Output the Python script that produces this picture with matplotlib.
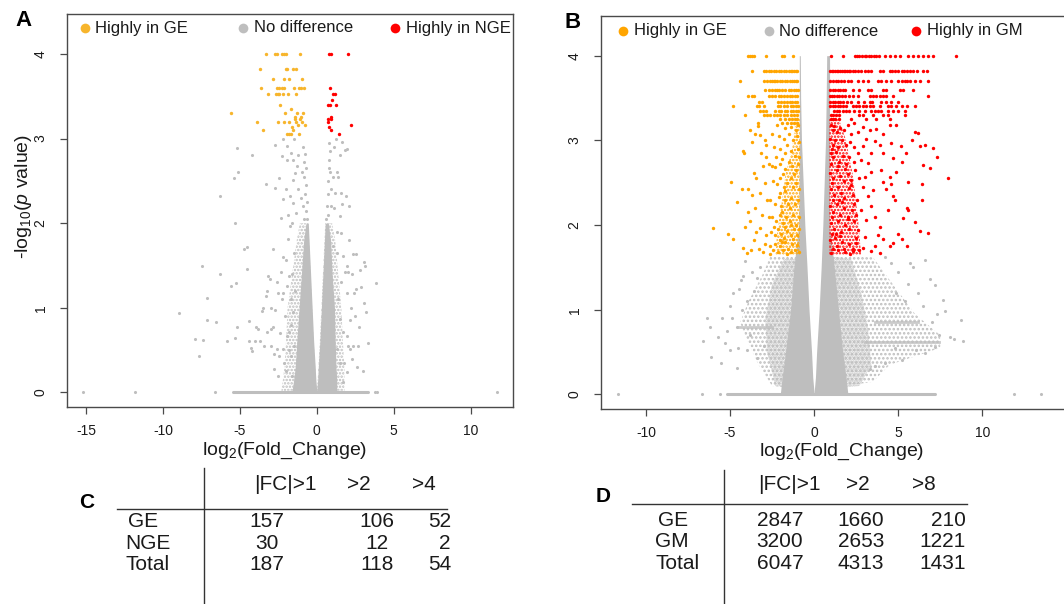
import matplotlib
matplotlib.use("Agg")
import matplotlib.pyplot as plt
from matplotlib.lines import Line2D

plt.rcParams['font.family'] = ['Liberation Sans', 'DejaVu Sans']
plt.rcParams['mathtext.fontset'] = 'custom'
plt.rcParams['mathtext.rm'] = 'Liberation Sans'
plt.rcParams['mathtext.it'] = 'Liberation Sans:italic'
plt.rcParams['axes.unicode_minus'] = False
plt.rcParams['hatch.linewidth'] = 1.2

# ---------------- DATA: panel A (GE vs NGE) ----------------
A_ge = [(-3.32, 4.0), (-2.69, 4.0), (-2.58, 4.0), (-2.28, 4.0), (-2.15, 4.0), (-2.02, 4.0), (-1.08, 4.0),
        (-3.68, 3.82), (-2.02, 3.82), (-1.91, 3.82), (-1.52, 3.82), (-1.34, 3.82),
        (-2.82, 3.70), (-2.12, 3.70), (-1.82, 3.70), (-0.98, 3.70),
        (-3.60, 3.60), (-2.56, 3.60), (-2.43, 3.60), (-2.28, 3.60), (-2.12, 3.60), (-1.50, 3.60),
        (-1.15, 3.60), (-1.02, 3.60), (-0.82, 3.60),
        (-3.16, 3.53), (-2.62, 3.53), (-2.51, 3.53), (-2.43, 3.53), (-2.17, 3.53), (-1.86, 3.53), (-1.34, 3.53),
        (-2.38, 3.40), (-1.69, 3.35), (-5.59, 3.30), (-2.08, 3.30), (-1.28, 3.30), (-0.87, 3.30),
        (-1.41, 3.26), (-1.02, 3.26), (-1.43, 3.23), (-1.08, 3.23),
        (-3.88, 3.19), (-2.54, 3.19), (-2.15, 3.19), (-1.80, 3.19), (-1.34, 3.19), (-0.95, 3.19),
        (-1.24, 3.16), (-0.78, 3.16), (-1.58, 3.14), (-3.51, 3.10), (-1.56, 3.10),
        (-1.95, 3.05), (-1.82, 3.05), (-1.65, 3.05), (-1.13, 3.05)]
A_nge = [(0.80, 4.0), (0.91, 4.0), (2.02, 4.0), (0.85, 3.60), (1.08, 3.53), (1.19, 3.53), (0.98, 3.46),
         (0.74, 3.40), (0.85, 3.40), (1.26, 3.40), (0.91, 3.26), (0.76, 3.23), (0.94, 3.23),
         (0.76, 3.19), (2.21, 3.16), (0.80, 3.14), (0.91, 3.10), (1.45, 3.05)]
A_grey = [(-15.17, 0), (-11.81, 0), (-6.61, 0), (3.79, 0), (3.94, 0), (11.75, 0),
          (-8.95, 0.94), (-7.91, 0.63), (-7.41, 0.62), (-7.63, 0.43), (-7.46, 1.50), (-7.15, 1.12),
          (-7.13, 0.86), (-6.57, 0.83), (-6.31, 2.32), (-6.29, 1.40), (-5.83, 0.61), (-5.55, 1.26),
          (-5.35, 2.53), (-5.29, 2.00), (-5.24, 1.29), (-5.29, 0.64), (-5.16, 0.77), (-5.14, 2.60),
          (-5.18, 2.89), (-4.70, 1.70), (-4.53, 1.72), (-4.51, 1.46), (-4.38, 0.85), (-4.42, 0.61),
          (-4.29, 0.53), (-4.23, 2.80), (-4.18, 0.49), (-3.99, 0.61), (-3.97, 0.77), (-3.84, 0.75),
          (-3.68, 0.61), (-3.55, 0.96), (-3.47, 1.00), (-3.32, 2.46), (-3.32, 1.14), (-3.25, 1.20),
          (-3.19, 1.38), (-3.03, 1.34), (-2.99, 0.55), (-2.86, 0.77), (-2.82, 1.70), (-2.75, 0.28),
          (-2.71, 2.42), (-2.69, 2.92), (-2.60, 0.51), (-2.47, 0.43), (-2.43, 2.53), (-2.34, 2.06),
          (-2.28, 2.79), (-2.21, 0.51), (-2.17, 2.28), (-2.10, 0.35), (-2.02, 2.40), (-1.95, 0.67),
          (-1.82, 0.71), (-1.78, 1.38), (-1.69, 0.43),
          (-2.69, 0.98), (-2.49, 1.18), (-2.28, 1.10), (-2.06, 0.90), (-1.91, 1.26), (-2.00, 1.57),
          (-1.86, 1.81), (-1.73, 1.97), (-2.34, 1.42), (-2.17, 1.18), (-2.99, 0.75), (-3.25, 0.71),
          (-2.17, 2.99), (-1.91, 2.91), (-1.67, 2.83), (-1.52, 2.75), (-1.41, 2.59), (-1.56, 2.51),
          (-1.73, 2.32), (-1.52, 2.24), (-1.34, 2.12), (-1.30, 2.67), (-1.95, 2.75), (-1.45, 1.65),
          (-1.60, 1.40), (-1.70, 1.10), (-1.55, 0.95), (-1.40, 1.20), (-1.65, 0.80), (-1.50, 0.55),
          (-1.80, 0.50), (-2.40, 0.70), (-2.60, 1.30), (-2.20, 1.60), (-1.90, 2.10), (-1.60, 2.00),
          (-1.25, 2.40), (-1.20, 2.80), (-1.45, 3.00), (-2.50, 0.20), (-2.00, 0.25), (-1.60, 0.20),
          (-1.30, 0.15), (-3.00, 1.00), (-2.80, 0.45), (-3.40, 0.55),
          (-0.62, 2.05), (-0.70, 2.15), (-0.66, 2.25), (-0.75, 2.35), (-0.68, 2.45), (-0.80, 2.55),
          (-0.72, 2.65), (-0.85, 2.72), (-0.78, 2.82), (-0.88, 2.90), (-0.95, 2.60), (-1.00, 2.30),
          (-0.90, 2.20), (-0.82, 2.05),
          (0.60, 2.05), (0.66, 2.20), (0.70, 2.35), (0.74, 2.50), (0.78, 2.65), (0.80, 2.75),
          (0.85, 2.85), (0.82, 2.95), (0.90, 2.40), (0.95, 2.20), (0.72, 2.10), (0.88, 2.60),
          (3.86, 1.29), (3.34, 0.59), (3.12, 1.49), (3.05, 1.54), (2.82, 1.45), (3.08, 1.06),
          (2.75, 0.77), (2.58, 1.64), (2.34, 1.64), (2.38, 0.55), (2.56, 1.22), (2.43, 1.18),
          (2.17, 0.51), (2.28, 0.40), (2.06, 0.55), (1.99, 1.49), (2.06, 1.42), (1.84, 1.42),
          (1.91, 2.32), (1.95, 2.88), (1.63, 2.96), (1.56, 2.36), (1.65, 2.23), (1.58, 1.89),
          (1.52, 2.08), (1.30, 2.60), (1.41, 2.55), (1.19, 2.36), (1.15, 2.18), (1.84, 2.87),
          (1.52, 2.80), (1.08, 2.55), (1.08, 1.73), (1.30, 1.65), (1.73, 1.61), (1.95, 1.18),
          (1.41, 1.10), (1.52, 0.87), (1.73, 0.71), (1.95, 0.67), (2.17, 0.86), (1.30, 0.51),
          (1.52, 0.35), (1.08, 0.31), (1.95, 0.24), (1.73, 0.12), (2.50, 0.90), (2.70, 0.55),
          (3.20, 0.95), (2.90, 1.25), (2.20, 1.00), (1.60, 1.30), (1.30, 1.90), (2.10, 1.80),
          (2.30, 1.40), (1.80, 0.35), (2.60, 0.30), (3.00, 0.25), (1.25, 3.00), (1.10, 2.90),
          (2.10, 2.20)]
# envelopes of the solid-looking V-shaped core of grey points
A_core_y = [0.02, 0.15, 0.3, 0.6, 1.0, 1.4, 1.8, 2.0]
A_core_left_in = [0.0, -0.06, -0.10, -0.20, -0.30, -0.40, -0.50, -0.55]
A_core_left_out = [-1.6, -1.5, -1.4, -1.3, -1.15, -1.0, -0.85, -0.70]
A_core_right_in = [0.0, 0.06, 0.10, 0.20, 0.30, 0.40, 0.50, 0.55]
A_core_right_out = [1.3, 1.3, 1.25, 1.2, 1.15, 1.0, 0.9, 0.75]
A_halo_left_out = [-2.3, -2.2, -2.1, -2.0, -1.9, -1.6, -1.3, -1.1]
A_halo_right_out = [1.8, 1.8, 1.8, 1.7, 1.6, 1.4, 1.2, 1.0]
A_zero_run = [-5.42, 3.36]

# ---------------- DATA: panel B (GE vs GM) ----------------
B_ge_row_levels = [4.00, 3.82, 3.70, 3.60, 3.52, 3.45, 3.40, 3.35, 3.30, 3.25, 3.21]
B_ge_row_x = [
    [-3.9, -3.8, -3.7, -3.55, -2.85, -1.9, -1.8, -1.25],
    [-3.72, -3.0, -2.85, -2.7, -2.55, -2.4, -2.25, -2.1, -1.95, -1.8, -1.65, -1.5, -1.4, -1.3, -1.2, -1.1, -1.0],
    [-4.4, -3.0, -2.8, -2.6, -2.5, -2.4, -2.3, -2.2, -2.05, -1.9, -1.75, -1.6, -1.45, -1.3, -1.2, -1.1, -1.0],
    [-2.9, -2.7, -2.5, -2.3, -2.2, -2.1, -1.9, -1.7, -1.5, -1.35, -1.2, -1.05, -0.95],
    [-3.9, -3.7, -3.55, -2.7, -2.5, -2.3, -2.1, -1.95, -1.8, -1.6, -1.45, -1.3, -1.15, -1.0],
    [-3.25, -3.1, -2.15, -1.95, -1.8, -1.6, -1.45, -1.3, -1.15, -1.0],
    [-4.8, -3.4, -3.25, -3.0, -2.15, -2.0, -1.8, -1.6, -1.4, -1.25, -1.1, -0.95],
    [-3.2, -3.05, -2.85, -2.3, -2.1, -1.95, -1.75, -1.6, -1.4, -1.25, -1.1, -0.95],
    [-4.1, -3.0, -2.8, -2.6, -2.4, -2.2, -2.0, -1.8, -1.6, -1.4, -1.2, -1.0],
    [-2.0, -1.7, -1.5, -1.3, -1.15, -1.0],
    [-3.35, -1.9, -1.6, -1.4, -1.2, -1.0]]
B_ge_pts = [(-3.34, 3.17), (-3.83, 3.12), (-3.53, 3.08), (-3.24, 3.06), (-2.94, 3.00), (-2.84, 2.95),
            (-3.70, 2.98), (-4.20, 2.87), (-4.15, 2.85), (-3.14, 2.85), (-2.84, 2.80), (-3.03, 2.70),
            (-2.70, 2.72), (-3.60, 2.62), (-3.45, 2.55), (-2.90, 2.50), (-4.95, 2.51), (-4.30, 2.43),
            (-3.95, 2.42), (-3.70, 2.35), (-3.20, 2.38), (-2.80, 2.30), (-4.60, 2.27), (-3.50, 2.20),
            (-3.90, 2.15), (-3.10, 2.12), (-2.70, 2.10), (-3.80, 2.05), (-4.10, 1.98), (-6.00, 1.97),
            (-3.20, 1.97), (-3.45, 1.92), (-5.10, 1.89), (-4.80, 1.84), (-2.85, 1.88), (-3.60, 1.82),
            (-2.90, 1.78), (-4.25, 1.73), (-3.75, 1.70), (-3.30, 1.72), (-3.05, 1.68), (-2.60, 1.66),
            (-4.00, 1.67),
            (-2.2, 3.18), (-1.7, 3.15), (-1.35, 3.16), (-1.1, 3.12), (-0.95, 3.18),
            (-2.5, 3.08), (-2.1, 3.05), (-1.8, 3.02), (-1.5, 3.07), (-1.25, 3.0), (-1.0, 3.05), (-0.9, 2.98),
            (-2.4, 2.92), (-2.0, 2.90), (-1.75, 2.85), (-1.6, 2.95), (-1.35, 2.88), (-1.15, 2.82),
            (-0.95, 2.9), (-0.9, 2.8), (-2.25, 2.8), (-1.9, 2.78),
            (-2.5, 2.7), (-2.3, 2.68), (-2.05, 2.72), (-1.7, 2.66), (-1.5, 2.74), (-1.3, 2.7),
            (-1.1, 2.65), (-0.95, 2.72), (-1.85, 2.6), (-1.2, 2.6),
            (-2.45, 2.52), (-2.2, 2.48), (-2.0, 2.55), (-1.8, 2.45), (-1.6, 2.5), (-1.4, 2.55),
            (-1.25, 2.45), (-1.05, 2.5), (-0.92, 2.42), (-1.7, 2.4),
            (-2.6, 2.3), (-2.35, 2.25), (-2.1, 2.33), (-1.95, 2.22), (-1.75, 2.3), (-1.55, 2.25),
            (-1.35, 2.32), (-1.15, 2.25), (-0.98, 2.3), (-1.45, 2.2), (-2.0, 2.38),
            (-2.5, 2.1), (-2.25, 2.05), (-2.05, 2.12), (-1.85, 2.02), (-1.65, 2.1), (-1.45, 2.05),
            (-1.25, 2.12), (-1.05, 2.0), (-0.92, 2.1), (-1.9, 2.15), (-1.35, 2.0),
            (-2.55, 1.92), (-2.3, 1.88), (-2.15, 1.95), (-1.95, 1.9), (-1.8, 1.85), (-1.6, 1.93),
            (-1.4, 1.88), (-1.2, 1.95), (-1.0, 1.88), (-0.9, 1.95), (-1.7, 1.98), (-2.4, 1.98),
            (-2.6, 1.75), (-2.45, 1.7), (-2.3, 1.78), (-2.15, 1.68), (-2.0, 1.75), (-1.85, 1.7),
            (-1.7, 1.8), (-1.55, 1.72), (-1.4, 1.68), (-1.3, 1.78), (-1.15, 1.7), (-1.0, 1.76),
            (-0.9, 1.68), (-2.05, 1.82), (-1.6, 1.66), (-1.9, 1.8), (-1.25, 1.83)]
B_ge_dense = [(-0.85, 1.65), (-2.3, 1.65), (-2.2, 1.9), (-1.9, 2.3), (-1.7, 2.6), (-1.3, 2.9),
              (-1.1, 3.25), (-0.85, 3.25)]

B_gm_row_levels = [4.00, 3.82, 3.70, 3.60, 3.52, 3.45, 3.40, 3.35, 3.30, 3.25]
B_gm_row_x = [
    [1.03, 1.72, 2.42, 2.55, 2.7, 2.85, 3.0, 3.1, 3.25, 3.4, 3.55, 3.7, 3.85, 4.2, 4.5, 4.8, 5.1, 5.6, 5.9,
     6.2, 6.5, 6.8, 7.07, 8.46],
    [0.95, 1.05, 1.15, 1.25, 1.35, 1.45, 1.55, 1.65, 1.75, 1.85, 1.95, 2.05, 2.15, 2.3, 2.45, 2.6, 2.8, 3.0,
     3.2, 3.4, 3.9, 4.1, 4.5, 4.65, 4.8, 5.0, 5.2, 5.35, 5.5, 5.7, 5.9, 6.1, 6.5, 6.7],
    [0.95, 1.1, 1.3, 1.45, 1.6, 1.8, 2.0, 2.2, 2.6, 2.9, 3.2, 3.8, 4.0, 4.3, 4.6, 5.0, 5.2, 5.4, 5.55, 5.7,
     6.0, 6.3, 6.8],
    [0.95, 1.1, 1.25, 1.4, 1.55, 1.7, 1.85, 2.3, 2.65, 3.2, 3.4, 4.1, 4.3, 5.1, 5.3, 5.9],
    [0.95, 1.05, 1.2, 1.35, 1.5, 1.65, 1.85, 2.1, 2.3, 2.6, 3.3, 3.5, 3.7, 3.9, 4.1, 4.3, 4.7, 6.75],
    [0.95, 1.1, 1.25, 1.4, 1.55, 1.7, 1.95, 2.2, 2.6, 2.95, 3.3, 3.45, 4.0, 4.3, 4.6, 5.0],
    [0.95, 1.1, 1.25, 1.4, 1.55, 1.7, 1.9, 2.3, 2.5, 2.7, 2.9, 3.1, 3.3, 3.5, 3.9, 4.4, 4.6, 4.9, 5.2, 5.5, 6.0],
    [1.2, 1.35, 1.5, 1.7, 1.9, 2.1, 2.4, 2.7, 3.0, 3.4, 3.6, 3.8, 4.0, 4.4, 4.7, 5.0, 5.4],
    [1.0, 1.15, 1.3, 1.5, 2.7, 2.9, 3.5, 4.1, 4.4, 5.4],
    [1.0, 1.1, 1.25, 1.5, 2.2, 3.1, 3.7, 4.5]]
B_gm_pts = [(7.94, 2.56), (7.29, 2.80), (7.10, 2.91), (6.89, 2.67), (6.50, 2.71), (6.40, 2.30), (6.30, 2.93),
            (6.60, 2.95), (6.00, 3.10), (6.20, 3.09), (5.80, 3.00), (6.40, 2.49), (6.30, 1.93), (6.80, 1.91),
            (5.50, 2.20), (5.60, 2.18), (5.30, 2.08), (6.00, 2.04), (5.15, 2.93), (5.45, 2.85), (5.20, 2.75),
            (4.70, 2.79), (4.85, 2.63), (5.60, 2.51), (4.60, 2.48), (4.70, 2.34), (4.40, 2.18), (4.80, 2.30),
            (4.30, 2.42), (4.50, 2.57), (4.10, 2.51), (4.00, 2.65), (4.10, 2.85), (3.90, 2.95), (3.60, 2.99),
            (4.10, 3.08), (4.60, 2.97), (4.50, 3.18), (4.90, 3.18), (5.00, 1.90), (5.20, 1.83), (4.70, 1.79),
            (4.50, 1.75), (5.50, 1.75), (3.60, 1.75), (4.10, 1.83), (3.80, 1.88), (3.90, 1.98), (3.60, 2.10),
            (3.40, 2.22), (3.20, 2.34), (3.50, 2.41), (2.90, 2.45), (3.00, 2.57), (3.40, 2.63), (3.20, 2.73),
            (2.80, 2.77), (3.40, 2.85), (2.90, 2.93), (3.10, 3.02), (2.60, 3.10), (3.30, 3.12), (2.40, 3.20),
            (2.90, 3.16), (3.70, 3.14), (2.80, 2.18), (3.10, 2.06), (2.60, 1.94), (3.00, 1.86), (2.50, 1.79),
            (2.90, 1.73), (2.30, 1.69), (3.40, 1.69), (3.90, 1.67),
            (1.0, 3.18), (1.1, 3.12), (1.2, 3.17), (1.35, 3.1), (1.55, 3.15), (1.8, 3.12), (2.0, 3.18), (2.2, 3.08),
            (0.97, 3.02), (1.1, 2.95), (1.25, 3.0), (1.45, 2.92), (1.65, 3.0), (1.9, 2.95), (2.15, 2.98),
            (2.4, 2.92), (1.05, 2.9),
            (0.98, 2.85), (1.15, 2.8), (1.3, 2.86), (1.5, 2.75), (1.7, 2.82), (1.9, 2.72), (2.1, 2.8),
            (2.35, 2.75), (2.6, 2.85), (1.0, 2.72), (1.4, 2.7),
            (0.97, 2.62), (1.15, 2.55), (1.35, 2.65), (1.55, 2.58), (1.75, 2.52), (2.0, 2.6), (2.2, 2.53),
            (2.45, 2.65), (1.05, 2.5), (1.85, 2.66), (2.7, 2.55),
            (0.98, 2.42), (1.2, 2.35), (1.4, 2.45), (1.6, 2.38), (1.8, 2.32), (2.05, 2.44), (2.3, 2.36),
            (2.55, 2.3), (1.1, 2.3), (1.5, 2.3), (2.2, 2.47),
            (0.97, 2.22), (1.15, 2.15), (1.35, 2.25), (1.55, 2.12), (1.8, 2.2), (2.0, 2.1), (2.25, 2.18),
            (2.5, 2.12), (1.05, 2.1), (1.65, 2.27), (2.4, 2.25),
            (0.98, 2.02), (1.2, 1.95), (1.4, 2.05), (1.6, 1.92), (1.85, 2.0), (2.1, 1.95), (2.35, 2.05),
            (1.05, 1.9), (1.3, 1.9), (2.0, 2.07),
            (0.97, 1.82), (1.1, 1.72), (1.25, 1.85), (1.45, 1.7), (1.65, 1.8), (1.85, 1.68), (2.05, 1.78),
            (2.3, 1.72), (2.5, 1.85), (1.0, 1.67), (1.35, 1.75), (1.75, 1.72), (2.15, 1.66), (1.55, 1.87),
            (2.7, 1.7)]
B_gm_dense = [(0.9, 1.65), (2.8, 1.65), (2.6, 2.1), (2.3, 2.6), (1.9, 3.0), (1.5, 3.25), (0.9, 3.25)]

B_grey_pts = [(-11.68, 0), (-6.69, 0), (-5.6, 0), (11.9, 0), (13.5, 0),
              (-6.59, 0.63), (-6.39, 0.90), (-6.10, 0.44), (-6.20, 0.80), (-5.50, 0.90), (-5.70, 0.68),
              (-5.00, 1.05), (-5.30, 0.61), (-5.00, 0.53), (-4.60, 0.31), (-5.54, 0.37), (-4.47, 1.25),
              (-4.37, 1.35), (-4.20, 1.40), (-4.0, 0.52), (-3.8, 0.70), (-3.4, 0.43), (-3.0, 0.57),
              (-4.6, 0.80), (-4.9, 0.90), (-4.3, 1.00), (-4.0, 1.10), (-3.6, 1.22), (-3.4, 1.37),
              (-3.2, 1.50), (-4.1, 1.57), (-3.7, 1.45), (-4.8, 1.20), (-5.2, 0.75), (-4.5, 0.55),
              (8.86, 0.63), (8.76, 0.88), (7.77, 0.98), (7.68, 1.12), (7.17, 1.29), (6.88, 1.36),
              (6.58, 1.59), (6.08, 0.53), (5.90, 1.50), (5.70, 1.55), (8.06, 0.68), (8.30, 0.66),
              (7.40, 0.70), (7.20, 0.56), (6.60, 0.49), (5.20, 0.41), (4.80, 0.55), (4.20, 0.37),
              (3.60, 0.33), (3.30, 0.30), (6.5, 1.05), (6.2, 1.20), (5.6, 1.30), (5.0, 1.45),
              (4.6, 1.55), (4.2, 1.62), (7.0, 0.85), (7.3, 0.95), (5.4, 1.10), (4.9, 1.20)]
B_core_y = [0.02, 0.2, 0.5, 1.0, 1.5, 2.0, 2.5, 3.0, 3.5, 4.0]
B_core_left_in = [0.0, -0.08, -0.15, -0.30, -0.42, -0.55, -0.65, -0.75, -0.80, -0.82]
B_core_left_out = [-2.0, -1.9, -1.7, -1.4, -1.2, -0.92, -0.9, -0.88, -0.88, -0.88]
B_core_right_in = [0.0, 0.08, 0.15, 0.30, 0.42, 0.52, 0.60, 0.68, 0.72, 0.75]
B_core_right_out = [2.0, 1.9, 1.7, 1.45, 1.2, 0.92, 0.92, 0.92, 0.92, 0.92]
B_cloud_left_dense = [(-0.2, 0.05), (-2.3, 0.10), (-2.8, 0.5), (-2.9, 0.9), (-2.5, 1.3), (-1.8, 1.6),
                      (-0.85, 1.6), (-0.5, 1.2)]
B_cloud_left_mid = [(-0.3, 0.05), (-2.5, 0.10), (-3.3, 0.35), (-3.9, 0.6), (-4.4, 0.85), (-3.9, 1.1),
                    (-3.1, 1.4), (-2.6, 1.63), (-0.85, 1.63), (-0.6, 1.4)]
B_cloud_right_dense = [(0.2, 0.05), (2.7, 0.10), (3.4, 0.35), (3.2, 0.8), (2.8, 1.2), (2.2, 1.6),
                       (0.9, 1.63), (0.5, 1.2)]
B_cloud_right_mid = [(0.3, 0.05), (3.5, 0.15), (4.5, 0.35), (6.0, 0.45), (7.5, 0.55), (7.5, 0.70),
                     (6.0, 0.95), (4.5, 1.35), (3.5, 1.62), (0.9, 1.63)]
B_streaks = [(0.62, 3.0, 7.4), (0.85, 3.6, 6.2), (0.80, -4.5, -2.5)]
B_zero_run = [-5.2, 7.17]

# ---------------- DATA: tables ----------------
C_cols = ['|FC|>1', '>2', '>4']
C_rows = ['GE', 'NGE', 'Total']
C_vals = [[157, 106, 52], [30, 12, 2], [187, 118, 54]]
D_cols = ['|FC|>1', '>2', '>8']
D_rows = ['GE', 'GM', 'Total']
D_vals = [[2847, 1660, 210], [3200, 2653, 1221], [6047, 4313, 1431]]

# ---------------- STYLE ----------------
GREY = '#BEBEBE'
RED = '#FF0000'
ORANGE_A = '#F7B52C'
ORANGE_B = '#FFA500'
SPINE = '#4a4a4a'
TXT = '#1a1a1a'
YLIM = (-0.172, 4.472)

W, H = 1064, 604
fig = plt.figure(figsize=(W / 100, H / 100), dpi=100)


def fx(px):
    return px / W


def fy(py):
    return 1 - py / H


def style_axes(ax, xlim, xticks):
    ax.set_xlim(*xlim)
    ax.set_ylim(*YLIM)
    ax.set_xticks(xticks)
    ax.set_yticks([0, 1, 2, 3, 4])
    for s in ax.spines.values():
        s.set_color(SPINE)
        s.set_linewidth(1.0)
    ax.tick_params(axis='both', length=5, width=0.9, color=SPINE, labelsize=10,
                   labelcolor=TXT, pad=9)
    ax.tick_params(axis='x', pad=7)
    for lab in ax.get_yticklabels():
        lab.set_rotation(90)
        lab.set_va('center')


def scatter(ax, pts, color, s=5, z=3):
    ax.scatter([p[0] for p in pts], [p[1] for p in pts], s=s, color=color, linewidths=0, zorder=z)


def speckle(ax, xs, ys, color, hatch, z=1):
    # a region of densely packed points, drawn as a dotted texture
    ax.fill(xs, ys, facecolor='none', edgecolor=color, hatch=hatch, lw=0, zorder=z)


def legend(items, ypx):
    for (dot_x, txt_x, col, label) in items:
        fig.add_artist(Line2D([fx(dot_x)], [fy(ypx)], marker='o', markersize=7, color=col,
                              markeredgewidth=0, transform=fig.transFigure))
        fig.text(fx(txt_x), fy(ypx), label, fontsize=12, color=TXT, ha='left', va='center')


# ---------------- Panel A ----------------
axA = fig.add_axes([fx(67), fy(407), fx(446), 393 / H])
style_axes(axA, (-16.24, 12.76), [-15, -10, -5, 0, 5, 10])
speckle(axA, A_core_left_in + A_halo_left_out[::-1], A_core_y + A_core_y[::-1], GREY, '.....')
speckle(axA, A_core_right_in + A_halo_right_out[::-1], A_core_y + A_core_y[::-1], GREY, '.....')
axA.fill_betweenx(A_core_y, A_core_left_in, A_core_left_out, color=GREY, lw=0, zorder=2)
axA.fill_betweenx(A_core_y, A_core_right_in, A_core_right_out, color=GREY, lw=0, zorder=2)
axA.plot(A_zero_run, [0, 0], color=GREY, lw=2.2, solid_capstyle='round', zorder=2)
scatter(axA, A_grey, GREY, s=5)
scatter(axA, A_ge, ORANGE_A, s=6, z=4)
scatter(axA, A_nge, RED, s=6, z=4)
fig.text(fx(285), fy(451), 'log$_{2}$(Fold_Change)', fontsize=14, color=TXT, ha='center', va='center')
fig.text(fx(24), fy(196), '-log$_{10}$($p$ value)', fontsize=14, color=TXT, ha='center', va='center',
         rotation=90)
fig.text(fx(24), fy(21), 'A', fontsize=16, fontweight='bold', color='black', ha='center', va='center')
legend([(85, 95, ORANGE_A, 'Highly in GE'), (243, 254, GREY, 'No difference'),
        (395, 406, RED, 'Highly in NGE')], 28)

# ---------------- Panel B ----------------
axB = fig.add_axes([fx(601), fy(409), 462 / W, 393.3 / H])
style_axes(axB, (-12.67, 14.8), [-10, -5, 0, 5, 10])
axB.spines['right'].set_visible(False)
for verts, h in ((B_cloud_left_mid, '....'), (B_cloud_right_mid, '....'),
                 (B_cloud_left_dense, '.......'), (B_cloud_right_dense, '.......')):
    speckle(axB, [v[0] for v in verts], [v[1] for v in verts], GREY, h)
for (yy, x0, x1) in B_streaks:
    axB.plot([x0, x1], [yy, yy], color=GREY, lw=2.0, alpha=0.8, zorder=2)
axB.fill_betweenx(B_core_y, B_core_left_in, B_core_left_out, color=GREY, lw=0, zorder=2)
axB.fill_betweenx(B_core_y, B_core_right_in, B_core_right_out, color=GREY, lw=0, zorder=2)
axB.plot(B_zero_run, [0, 0], color=GREY, lw=2.2, solid_capstyle='round', zorder=2)
scatter(axB, B_grey_pts, GREY, s=5)
speckle(axB, [v[0] for v in B_ge_dense], [v[1] for v in B_ge_dense], ORANGE_B, '.....', z=3)
speckle(axB, [v[0] for v in B_gm_dense], [v[1] for v in B_gm_dense], RED, '.....', z=3)
for yy, xs in zip(B_ge_row_levels, B_ge_row_x):
    scatter(axB, [(x, yy) for x in xs], ORANGE_B, s=6, z=4)
for yy, xs in zip(B_gm_row_levels, B_gm_row_x):
    scatter(axB, [(x, yy) for x in xs], RED, s=6, z=4)
scatter(axB, B_ge_pts, ORANGE_B, s=6, z=4)
scatter(axB, B_gm_pts, RED, s=6, z=4)
fig.text(fx(842), fy(452), 'log$_{2}$(Fold_Change)', fontsize=14, color=TXT, ha='center', va='center')
fig.text(fx(573), fy(23), 'B', fontsize=16, fontweight='bold', color='black', ha='center', va='center')
legend([(622.7, 634, ORANGE_B, 'Highly in GE'), (769.3, 779, GREY, 'No difference'),
        (915.7, 926.7, RED, 'Highly in GM')], 31)


# ---------------- Tables ----------------
def table(letter, letter_xy, vline_x, vline_top, hline_y, hline_x, head_x, head_y, row_x, row_y,
          col_pos, cols, rows, vals):
    fig.text(fx(letter_xy[0]), fy(letter_xy[1]), letter, fontsize=15, fontweight='bold',
             ha='center', va='center', color='black')
    fig.add_artist(Line2D([fx(vline_x), fx(vline_x)], [fy(vline_top), fy(H)], color='#333333',
                          lw=1.0, transform=fig.transFigure))
    fig.add_artist(Line2D([fx(hline_x[0]), fx(hline_x[1])], [fy(hline_y), fy(hline_y)], color='#333333',
                          lw=1.0, transform=fig.transFigure))
    for c, hx in zip(cols, head_x):
        fig.text(fx(hx), fy(head_y), c, fontsize=15, ha='center', va='center', color=TXT)
    for i, r in enumerate(rows):
        fig.text(fx(row_x[i]), fy(row_y[i]), r, fontsize=15, ha='left', va='center', color=TXT)
        for j, (cx, ha) in enumerate(col_pos):
            fig.text(fx(cx), fy(row_y[i]), str(vals[i][j]), fontsize=15, ha=ha, va='center', color=TXT)


table('C', (87, 503), 204, 468, 509, (117, 447), [285.7, 358.7, 424.3], 485,
      [128, 125, 125], [521.7, 543.3, 565], [(267, 'center'), (377, 'center'), (451, 'right')],
      C_cols, C_rows, C_vals)
table('D', (603, 497), 724, 470, 504.3, (632, 967), [789, 858, 924], 485,
      [658, 655, 655], [521, 541.7, 563.3], [(780, 'center'), (861, 'center'), (966, 'right')],
      D_cols, D_rows, D_vals)

fig.savefig('out.png', dpi=100)
